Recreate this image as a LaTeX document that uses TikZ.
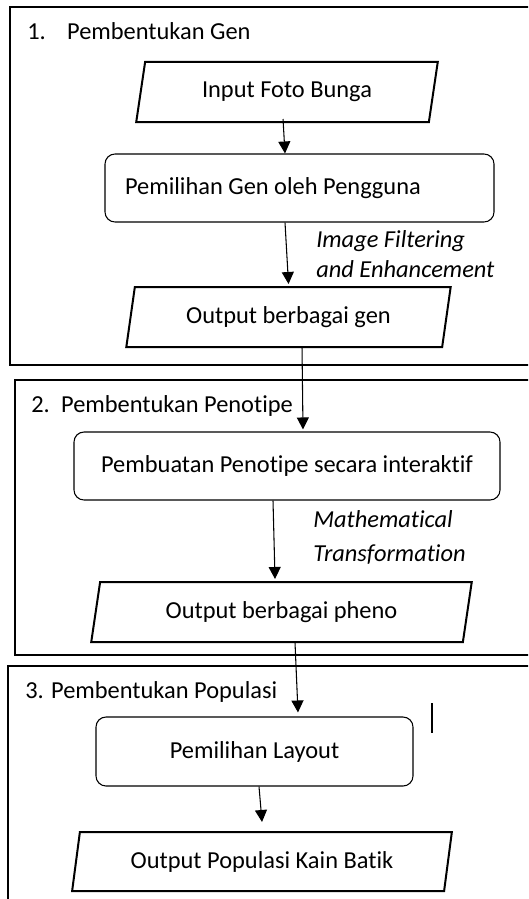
\documentclass[tikz,border=0pt]{standalone}
\usepackage{fontspec}
\setmainfont{Carlito}[Ligatures=NoCommon]
\usetikzlibrary{shapes.geometric,arrows.meta,calc}

\tikzset{
  stageframe/.style={draw, line width=1.1pt},
  stagetitle/.style={anchor=base west, inner sep=0pt, font=\fontsize{18.3}{22}\selectfont},
  iobox/.style={trapezium, trapezium left angle=75, trapezium right angle=105,
    trapezium stretches=true, draw, line width=1.5pt, minimum height=45pt,
    inner sep=0pt, font=\fontsize{18.3}{22}\selectfont},
  procbox/.style={draw, rounded corners=7.5pt, line width=0.8pt, minimum height=51pt,
    inner sep=0pt, font=\fontsize{18.3}{22}\selectfont},
  flow/.style={-{Triangle[width=9pt,length=9pt]}, line width=0.8pt},
  note/.style={anchor=north west, inner sep=0pt, align=flush left,
    font=\fontsize{18.3}{22.5}\selectfont\itshape}
}

\begin{document}
\begin{tikzpicture}[x=0.75pt, y=-0.75pt]
\clip (0,0) rectangle (528,899);

% stage frames
\draw[stageframe] (535,7) -- (10,7) -- (10,365) -- (535,365);
\draw[stageframe] (535,380) -- (15,380) -- (15,655) -- (535,655);
\draw[stageframe] (535,666) -- (8,666) -- (8,905);

\node[stagetitle] (title1) at (27,40) {1.\hspace{16pt}Pembentukan Gen};
\node[stagetitle] (title2) at (31,412) {2.\hspace{8.5pt}Pembentukan Penotipe};
\node[stagetitle] (title3) at (25,698) {3. Pembentukan Populasi};

% stage 1
\node[iobox, minimum width=226.5pt] (inbunga) at (287,92) {Input Foto Bunga};
\node[procbox, minimum width=291.75pt, text width=261.75pt, inner xsep=15pt, align=flush left]
  (pilihgen) at (299.5,188) {Pemilihan Gen oleh Pengguna};
\node[iobox, minimum width=243.75pt] (outgen) at (288.5,317) {Output berbagai gen};
\node[note] (filter) at (316,230) {Image Filtering\\and Enhancement};

% stage 2
\node[procbox, minimum width=319.5pt] (buatpheno) at (287,466) {Pembuatan Penotipe secara interaktif};
\node[iobox, minimum width=285.75pt] (outpheno) at (281.5,612) {Output berbagai pheno};
\node[note, font=\fontsize{18.3}{25.5}\selectfont\itshape] (mathtf) at (313,510) {Mathematical\\Transformation};

% stage 3
\node[procbox, minimum width=237.75pt, minimum height=51.75pt] (layout) at (254.5,751.5) {Pemilihan Layout};
\node[iobox, minimum width=285pt, minimum height=44.25pt] (outbatik) at (262,861.5) {Output Populasi Kain Batik};
\draw[line width=0.8pt] (432,703) -- (432,733);

% connectors
\draw[flow] ($(inbunga.south)+(-4,-4)$) -- ($(pilihgen.north)+(-14.5,0)$);
\draw[flow] ($(pilihgen.south)+(-14.5,0)$) -- ($(outgen.north)+(0,-2)$);
\draw[flow] ($(outgen.south)+(13.5,0)$) -- ($(buatpheno.north)+(16,-2)$);
\draw[flow] ($(buatpheno.south)+(-14,0)$) -- ($(outpheno.north)+(-6.5,-2)$);
\draw[flow] ($(outpheno.south)+(13.5,0)$) -- ($(layout.north)+(43.5,-4)$);
\draw[flow] ($(layout.south)+(4.5,0)$) -- ($(outbatik.north)+(0,-9)$);
\end{tikzpicture}
\end{document}
